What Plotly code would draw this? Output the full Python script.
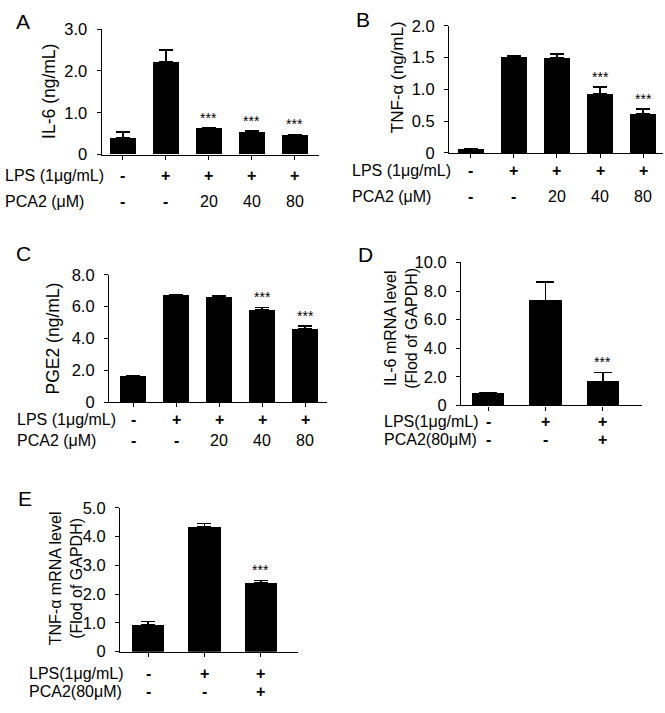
import plotly.graph_objects as go

W, H = 665, 713
FONT = "Liberation Sans, Arial, sans-serif"

# ---- data ----
lps5 = ["-", "+", "+", "+", "+"]
pca2_5 = ["-", "-", "20", "40", "80"]
lps3 = ["-", "+", "+"]
pca2_3 = ["-", "-", "+"]

il6 = [0.40, 2.21, 0.62, 0.54, 0.47]
il6_sd = [0.14, 0.29, 0.02, 0.03, 0.01]
il6_sig = ["", "", "***", "***", "***"]

tnf = [0.06, 1.52, 1.50, 0.93, 0.61]
tnf_sd = [0.005, 0.01, 0.06, 0.11, 0.08]
tnf_sig = ["", "", "", "***", "***"]

pge2 = [1.63, 6.73, 6.63, 5.82, 4.63]
pge2_sd = [0.03, 0.04, 0.04, 0.14, 0.15]
pge2_sig = ["", "", "", "***", "***"]

il6_mrna = [0.86, 7.32, 1.68]
il6_mrna_sd = [0.05, 1.32, 0.64]
il6_mrna_sig = ["", "", "***"]

tnf_mrna = [0.95, 4.35, 2.40]
tnf_mrna_sd = [0.10, 0.10, 0.08]
tnf_mrna_sig = ["", "", "***"]

ticks_a = [0, 1, 2, 3]
ticks_a_text = ["0", "1.0", "2.0", "3.0"]
ticks_b = [0, 0.5, 1.0, 1.5, 2.0]
ticks_b_text = ["0", "0.5", "1.0", "1.5", "2.0"]
ticks_c = [0, 2, 4, 6, 8]
ticks_c_text = ["0", "2.0", "4.0", "6.0", "8.0"]
ticks_d = [0, 2, 4, 6, 8, 10]
ticks_d_text = ["0", "2.0", "4.0", "6.0", "8.0", "10.0"]
ticks_e = [0, 1, 2, 3, 4, 5]
ticks_e_text = ["0", "1.0", "2.0", "3.0", "4.0", "5.0"]


def px(x):
    return x / W


def py(y):
    return 1 - y / H


fig = go.Figure()
annotations = []
layout = {}


def panel(n, vals, sd, sig, rows, row_names, xpx, ypx, xrange, ticks, ticktext,
          ytitle, title_pos, title_size, letter, letter_pos, row_y, row_x, bar_w, cap):
    xa = "x" if n == 1 else f"x{n}"
    ya = "y" if n == 1 else f"y{n}"
    xs = list(range(len(vals)))
    fig.add_trace(go.Bar(
        x=xs, y=vals, xaxis=xa, yaxis=ya, width=bar_w,
        marker=dict(color="black", line=dict(width=0)),
        error_y=dict(type="data", array=sd, arrayminus=[0] * len(sd), symmetric=False,
                     color="black", thickness=1.5, width=cap),
        showlegend=False,
    ))
    key = "" if n == 1 else str(n)
    layout["xaxis" + key] = dict(
        domain=[px(xpx[0]), px(xpx[1])], range=xrange, anchor=ya,
        showline=True, linecolor="black", linewidth=1.2, showgrid=False, zeroline=False,
        tickvals=xs, ticktext=[""] * len(xs), ticks="outside", ticklen=4,
        tickcolor="black", tickwidth=1, fixedrange=True,
    )
    layout["yaxis" + key] = dict(
        domain=[py(ypx[0]), py(ypx[1])], range=[0, ticks[-1]], anchor=xa,
        showline=True, linecolor="black", linewidth=1.2, showgrid=False, zeroline=False,
        tickvals=ticks, ticktext=ticktext, ticks="outside", ticklen=4,
        tickcolor="black", tickwidth=1, ticklabelstandoff=6,
        tickfont=dict(family=FONT, size=16.5, color="black"),
    )
    # significance stars
    for i, s in enumerate(sig):
        if s:
            annotations.append(dict(
                x=i, y=vals[i] + sd[i], xref=xa, yref=ya, text=s, showarrow=False,
                yanchor="bottom", font=dict(family=FONT, size=14, color="black"),
            ))
    # treatment rows under the axis
    for r, (row, name) in enumerate(zip(rows, row_names)):
        annotations.append(dict(
            x=px(row_x), y=py(row_y[r]), xref="paper", yref="paper", text=name,
            showarrow=False, xanchor="left", yanchor="middle",
            font=dict(family=FONT, size=16, color="black"),
        ))
        for i, t in enumerate(row):
            txt = f"<b>{t}</b>" if t in "+-" else t
            annotations.append(dict(
                x=i, y=py(row_y[r]), xref=xa, yref="paper", text=txt,
                showarrow=False, xanchor="center", yanchor="middle",
                font=dict(family=FONT, size=16, color="black"),
            ))
    # y axis title
    annotations.append(dict(
        x=px(title_pos[0]), y=py(title_pos[1]), xref="paper", yref="paper",
        text=ytitle, textangle=-90, showarrow=False, xanchor="center", yanchor="middle",
        font=dict(family=FONT, size=title_size, color="black"),
    ))
    # panel letter
    annotations.append(dict(
        x=px(letter_pos[0]), y=py(letter_pos[1]), xref="paper", yref="paper",
        text=letter, showarrow=False, xanchor="center", yanchor="middle",
        font=dict(family=FONT, size=21, color="black"),
    ))


panel(1, il6, il6_sd, il6_sig, [lps5, pca2_5], ["LPS (1μg/mL)", "PCA2 (μM)"],
      (101.7, 319), (149.3, 20.7), [-0.49, 4.56], ticks_a, ticks_a_text,
      "IL-6 (ng/mL)", (49, 84), 17.5, "A", (23, 13), (171, 197), 3, 0.6, 7)

panel(2, tnf, tnf_sd, tnf_sig, [lps5, pca2_5], ["LPS (1μg/mL)", "PCA2 (μM)"],
      (449, 663), (147.7, 17.3), [-0.50, 4.46], ticks_b, ticks_b_text,
      "TNF-α (ng/mL)", (397, 70), 17, "B", (363, 11), (166, 192), 350, 0.6, 7)

panel(3, pge2, pge2_sd, pge2_sig, [lps5, pca2_5], ["LPS (1μg/mL)", "PCA2 (μM)"],
      (109, 327), (403.3, 272.7), [-0.56, 4.51], ticks_c, ticks_c_text,
      "PGE2 (ng/mL)", (53, 338), 17.5, "C", (23, 251), (421.5, 442.5), 15, 0.62, 7)

panel(4, il6_mrna, il6_mrna_sd, il6_mrna_sig, [lps3, pca2_3], ["LPS(1μg/mL)", "PCA2(80μM)"],
      (461, 642), (406.7, 260), [-0.47, 2.68], ticks_d, ticks_d_text,
      "IL-6 mRNA level<br>(Flod of GAPDH)", (401, 327), 16, "D", (365, 252),
      (423, 442), 382, 0.57, 9)

panel(5, tnf_mrna, tnf_mrna_sd, tnf_mrna_sig, [lps3, pca2_3], ["LPS(1μg/mL)", "PCA2(80μM)"],
      (120, 298), (659.3, 511.7), [-0.50, 2.66], ticks_e, ticks_e_text,
      "TNF-α mRNA level<br>(Flod of GAPDH)", (66, 584), 16, "E", (25, 502),
      (681.5, 700.5), 27, 0.57, 7)

fig.update_layout(
    width=W, height=H,
    margin=dict(l=0, r=0, t=0, b=0),
    paper_bgcolor="white", plot_bgcolor="white",
    font=dict(family=FONT, color="black"),
    annotations=annotations,
    bargap=0,
    **layout,
)

# drop the default body margin so the figure fills the window exactly
fig.write_html("out.html", config={"displayModeBar": False},
               post_script="document.body.style.margin='0';document.body.style.overflow='hidden';")
